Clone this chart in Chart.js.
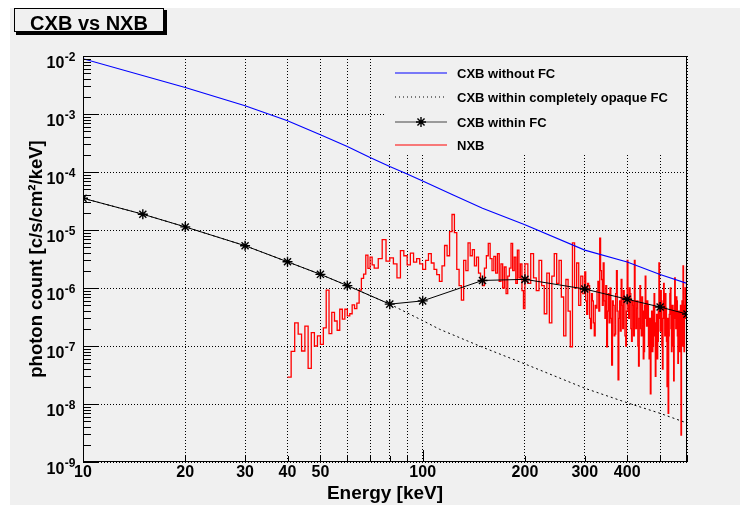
<!DOCTYPE html>
<html>
<head>
<meta charset="utf-8">
<title>CXB vs NXB</title>
<script src="https://cdn.jsdelivr.net/npm/chart.js@4.4.0/dist/chart.umd.min.js"></script>
<style>
html,body{margin:0;padding:0;background:#ffffff;}
#box{position:relative;width:750px;height:510px;}
canvas{display:block;}
</style>
</head>
<body>
<div id="box"><canvas id="chart" width="750" height="510"></canvas></div>
<script>
// ---------------- data ----------------
const chartTitle = 'CXB vs NXB';
const seriesNames = ['CXB without FC', 'CXB within completely opaque FC', 'CXB within FC', 'NXB'];

const cxbEnergy = [10, 20, 30, 40, 50, 60, 70, 80, 90, 100, 123, 150, 200, 300, 400, 500, 600];
const cxbWithoutFC = [8.98e-3, 2.87e-3, 1.39e-3, 7.64e-4, 4.38e-4, 2.75e-4, 1.77e-4, 1.24e-4, 9.27e-5, 7.0e-5, 4.02e-5, 2.37e-5, 1.23e-5, 4.5e-6, 2.8e-6, 1.71e-6, 1.2e-6];

const fcEnergy = [10, 15, 20, 30, 40, 50, 60, 80, 100, 150, 200, 300, 400, 500, 600];
const cxbWithinFC = [3.53e-5, 1.87e-5, 1.13e-5, 5.36e-6, 2.83e-6, 1.72e-6, 1.10e-6, 5.27e-7, 6.0e-7, 1.35e-6, 1.41e-6, 9.6e-7, 6.4e-7, 4.7e-7, 3.55e-7];

const opaqueEnergy = [10, 15, 20, 30, 40, 50, 60, 80, 100, 112, 147, 200, 300, 400, 500, 600];
const cxbOpaqueFC = [3.53e-5, 1.87e-5, 1.13e-5, 5.36e-6, 2.83e-6, 1.72e-6, 1.10e-6, 5.27e-7, 2.74e-7, 1.95e-7, 1.0e-7, 4.9e-8, 1.87e-8, 1.05e-8, 6.9e-9, 4.7e-9];

// NXB histogram, runs of equal-width bins (low edge, width, contents)
const nxbAStart = 40, nxbAWidth = 1;      // 40-72 keV
const nxbA = [2.9e-8, 8.1e-8, 2.5e-7, 1.6e-7, 8.2e-8, 2.2e-7, 4.1e-8, 1.7e-7, 1.0e-7, 1.5e-7,
  1.07e-7, 2.06e-7, 9.2e-7, 1.64e-7, 3.8e-7, 2.7e-7, 1.87e-7, 4.3e-7, 2.9e-7, 4.3e-7,
  3.3e-7, 3.6e-7, 5.1e-7, 4.4e-7, 5.5e-7, 9.2e-7, 1.47e-6, 1.74e-6, 3.7e-6, 2.18e-6,
  3.4e-6, 2.5e-6];
const nxbBStart = 72, nxbBWidth = 2;      // 72-200 keV
const nxbB = [2.2e-6, 3.2e-6, 6.8e-6, 2.9e-6, 3.3e-6, 2.6e-6, 1.5e-6, 4.4e-6, 3.6e-6, 2.5e-6,
  4.0e-6, 2.8e-6, 3.2e-6, 2.6e-6, 2.1e-6, 3.0e-6, 3.9e-6, 2.7e-6, 2.1e-6, 1.7e-6,
  1.3e-6, 2.4e-6, 5.4e-6, 3.6e-6, 9.4e-6, 1.85e-5, 9.0e-6, 2.1e-6, 1.1e-6, 6.2e-7,
  3.0e-6, 2.0e-6, 6.0e-6, 3.6e-6, 4.6e-6, 2.4e-6, 3.4e-6, 1.8e-6, 1.4e-6, 1.1e-6,
  2.2e-6, 3.6e-6, 5.9e-6, 3.2e-6, 2.0e-6, 3.5e-6, 1.8e-6, 3.9e-6, 1.3e-6, 2.6e-6,
  1.0e-6, 2.3e-6, 8.0e-7, 1.6e-6, 2.2e-6, 5.9e-6, 2.0e-6, 3.4e-6, 1.2e-6, 4.5e-6,
  1.5e-6, 2.6e-6, 9.0e-7, 4.4e-7];
const nxbCStart = 200, nxbCWidth = 4;     // 200-300 keV
const nxbC = [2.6e-6, 1.2e-6, 3.9e-6, 1.5e-6, 9.0e-7, 3.0e-6, 1.1e-6, 3.6e-7, 1.8e-6, 2.5e-7,
  1.6e-6, 3.9e-6, 1.2e-6, 3.0e-6, 7.0e-7, 1.5e-7, 1.4e-6, 4.0e-7, 9.7e-8, 6.0e-6,
  1.0e-6, 2.7e-6, 5.0e-7, 1.6e-6, 8.0e-7];
const nxbDStart = 300, nxbDWidth = 2;     // 300-600 keV
const nxbD = [1.9e-6, 6.0e-7, 3.5e-7, 1.2e-6, 1.1e-6, 3.0e-7, 2.0e-7, 8.0e-7, 6.0e-7, 2.5e-7,
  1.5e-7, 5.0e-7, 4.5e-7, 9.0e-7, 1.3e-6, 4.0e-7, 7.2e-6, 2.0e-6, 1.4e-6, 5.0e-7,
  2.7e-6, 6.0e-7, 3.0e-7, 1.1e-6, 9.7e-8, 4.0e-7, 8.0e-7, 2.5e-7, 1.0e-6, 3.0e-7,
  4.7e-8, 6.0e-7, 5.0e-7, 1.5e-7, 1.6e-7, 8.0e-7, 2.0e-6, 4.0e-7, 2.6e-8, 3.0e-7,
  6.0e-7, 1.8e-7, 1.4e-6, 5.0e-7, 2.0e-7, 9.0e-7, 7.0e-7, 1.5e-7, 1.0e-7, 4.0e-7,
  3.0e-6, 5.0e-7, 3.0e-7, 1.0e-6, 8.0e-7, 2.0e-7, 1.2e-7, 6.0e-7, 5.0e-7, 1.5e-7,
  3.0e-6, 6.0e-7, 2.0e-7, 4.5e-7, 6.0e-7, 1.0e-7, 4.5e-8, 3.0e-7, 1.1e-6, 2.0e-7,
  1.5e-7, 7.0e-7, 4.0e-7, 6.0e-8, 8.0e-8, 5.0e-7, 1.6e-6, 3.0e-7, 2.2e-7, 6.0e-7,
  5.0e-7, 1.0e-7, 6.0e-8, 3.0e-7, 1.5e-8, 2.0e-7, 4.0e-7, 8.0e-8, 1.0e-7, 5.0e-7,
  8.0e-7, 1.5e-7, 3.0e-8, 2.5e-7, 3.5e-7, 6.0e-8, 1.2e-7, 4.0e-7, 2.7e-6, 3.0e-7,
  1.8e-7, 9.0e-7, 6.0e-7, 1.0e-7, 4.0e-8, 3.0e-7, 1.2e-6, 5.0e-7, 1.5e-7, 8.0e-7,
  4.5e-7, 1.2e-7, 2.0e-8, 3.0e-7, 6.9e-9, 1.5e-7, 3.5e-7, 8.0e-7, 1.0e-6, 2.0e-7,
  8.0e-8, 5.0e-7, 5.0e-7, 1.0e-7, 2.5e-8, 4.0e-7, 1.5e-6, 3.0e-7, 2.0e-7, 7.0e-7,
  6.0e-7, 1.5e-7, 5.0e-8, 4.0e-7, 4.0e-7, 8.0e-8, 1.2e-7, 5.0e-7, 2.9e-9, 2.0e-7,
  6.0e-7, 1.0e-7, 2.4e-6, 5.0e-7, 8.0e-8, 3.0e-7, 1.0e-6, 3.0e-7, 6.0e-7, 2.3e-6];
const nxbEndEnergy = 600, nxbEmptyValue = 1e-12; // histogram drops to the floor at its upper edge

const xTickValues = [10, 20, 30, 40, 50, 60, 70, 80, 90, 100, 200, 300, 400, 500, 600];
const xTickLabels = ['10', '20', '30', '40', '50', '', '', '', '', '100', '200', '300', '400', '', ''];
const yTickValues = [1e-9, 1e-8, 1e-7, 1e-6, 1e-5, 1e-4, 1e-3, 1e-2];
const yTickBase = '10';
const yTickExponents = ['-9', '-8', '-7', '-6', '-5', '-4', '-3', '-2'];
const xTitle = 'Energy [keV]';
const yTitle = 'photon count [c/s/cm\u00B2/keV]';

// ---------------- build chart ----------------
const FONT = '"Liberation Sans", Arial, Helvetica, sans-serif';
const BG = '#f0f0f0';
Chart.defaults.font.family = FONT;
Chart.defaults.color = '#000';

const pts = (xs, ys) => xs.map((x, i) => ({x: x, y: ys[i]}));
const bins = (start, width, vals) => vals.map((v, i) => ({x: start + i * width, y: v}));
const nxbPoints = [].concat(
  bins(nxbAStart, nxbAWidth, nxbA),
  bins(nxbBStart, nxbBWidth, nxbB),
  bins(nxbCStart, nxbCWidth, nxbC),
  bins(nxbDStart, nxbDWidth, nxbD),
  [{x: nxbEndEnergy, y: nxbEmptyValue}]
);

const legendColors = ['#0000ff', '#000000', '#444444', '#ff0000'];

function drawStar(ctx, x, y, r) {
  const d = r * Math.SQRT1_2;
  ctx.beginPath();
  ctx.moveTo(x - r, y); ctx.lineTo(x + r, y);
  ctx.moveTo(x, y - r); ctx.lineTo(x, y + r);
  ctx.moveTo(x - d, y - d); ctx.lineTo(x + d, y + d);
  ctx.moveTo(x - d, y + d); ctx.lineTo(x + d, y - d);
  ctx.stroke();
}

const LEG = {left: 384, bottom: 154, x0: 395, x1: 447, tx: 457, rows: [73, 97, 122, 145]};

const decor = {
  id: 'decor',
  beforeDraw(chart) {
    const c = chart.ctx;
    c.save();
    c.fillStyle = '#ffffff'; c.fillRect(0, 0, chart.width, chart.height);
    c.fillStyle = BG; c.fillRect(10, 8, 730, 497);
    c.restore();
  },
  beforeDatasetsDraw(chart) {
    const c = chart.ctx, a = chart.chartArea;
    c.save();
    c.fillStyle = BG;
    c.fillRect(LEG.left, a.top + 1, a.right - LEG.left - 1, LEG.bottom - a.top - 1);
    c.restore();
  },
  afterDatasetsDraw(chart) {
    const c = chart.ctx, a = chart.chartArea, xs = chart.scales.x, ys = chart.scales.y;
    c.save();
    c.strokeStyle = '#000'; c.lineWidth = 1; c.setLineDash([]);
    c.strokeRect(Math.round(a.left) + 0.5, Math.round(a.top) + 0.5, Math.round(a.right - a.left) - 1, Math.round(a.bottom - a.top) - 1);
    c.beginPath();
    for (let e = -9; e <= -2; e++) {
      for (let m = 1; m <= 9; m++) {
        const v = m * Math.pow(10, e);
        if (v > 1.0001e-2) break;
        const py = Math.round(ys.getPixelForValue(v)) + 0.5;
        const len = m === 1 ? 15 : 8;
        c.moveTo(a.left, py); c.lineTo(a.left + len, py);
      }
    }
    xTickValues.forEach(v => {
      const px = Math.round(xs.getPixelForValue(v)) + 0.5;
      const len = (v === 10 || v === 100) ? 12 : 6;
      c.moveTo(px, a.bottom); c.lineTo(px, a.bottom - len);
    });
    c.stroke();
    c.restore();
  },
  afterDraw(chart) {
    const c = chart.ctx, ys = chart.scales.y;
    c.save();
    // y tick labels: 10 with raised exponent
    c.fillStyle = '#000';
    c.textAlign = 'right'; c.textBaseline = 'alphabetic';
    yTickValues.forEach((v, i) => {
      const py = ys.getPixelForValue(v);
      c.font = 'bold 12px ' + FONT;
      const ew = c.measureText(yTickExponents[i]).width;
      c.fillText(yTickExponents[i], 75.5, py + 5);
      c.font = 'bold 16px ' + FONT;
      c.fillText(yTickBase, 75.5 - ew - 0.5, py + 11.5);
    });
    // title box with shadow
    c.fillStyle = '#000'; c.fillRect(16, 10, 151, 25);
    c.fillStyle = BG; c.fillRect(14, 8, 150, 24);
    c.strokeStyle = '#000'; c.lineWidth = 1; c.strokeRect(14.5, 8.5, 149, 23);
    c.fillStyle = '#000';
    c.font = 'bold 20px ' + FONT;
    c.textAlign = 'center'; c.textBaseline = 'alphabetic';
    c.fillText(chartTitle, 89, 30);
    // legend
    c.font = 'bold 13px ' + FONT;
    c.textAlign = 'left';
    LEG.rows.forEach((ry, i) => {
      c.save();
      c.lineWidth = 1;
      c.strokeStyle = legendColors[i];
      c.setLineDash(i === 1 ? [1, 3] : []);
      c.beginPath(); c.moveTo(LEG.x0, ry); c.lineTo(LEG.x1, ry); c.stroke();
      c.setLineDash([]);
      if (i === 2) { c.strokeStyle = '#000'; c.lineWidth = 1.4; drawStar(c, (LEG.x0 + LEG.x1) / 2, ry, 5); }
      c.restore();
      c.fillStyle = '#000';
      c.fillText(seriesNames[i], LEG.tx, ry + 5);
    });
    c.restore();
  }
};

new Chart(document.getElementById('chart'), {
  type: 'line',
  data: {
    datasets: [
      {label: seriesNames[2], data: pts(fcEnergy, cxbWithinFC), borderColor: '#000', borderWidth: 1,
        pointStyle: 'star', pointRadius: 5, pointBorderColor: '#000', pointBorderWidth: 1.4,
        pointBackgroundColor: 'rgba(0,0,0,0)', tension: 0, fill: false},
      {label: seriesNames[1], data: pts(opaqueEnergy, cxbOpaqueFC), borderColor: '#000', borderWidth: 1,
        borderDash: [2, 3], pointRadius: 0, tension: 0, fill: false},
      {label: seriesNames[0], data: pts(cxbEnergy, cxbWithoutFC), borderColor: '#0000ff', borderWidth: 1.1,
        pointRadius: 0, tension: 0, fill: false},
      {label: seriesNames[3], data: nxbPoints, borderColor: '#ff0000', borderWidth: 1.3,
        pointRadius: 0, stepped: 'before', tension: 0, fill: false}
    ]
  },
  options: {
    responsive: false,
    animation: false,
    devicePixelRatio: 1,
    events: [],
    layout: {padding: {left: 0, top: 56, right: 63, bottom: 0}},
    plugins: {legend: {display: false}, tooltip: {enabled: false}, title: {display: false}},
    scales: {
      x: {
        type: 'logarithmic', min: 10, max: 600,
        afterBuildTicks: (s) => { s.ticks = xTickValues.map(v => ({value: v})); },
        afterFit: (s) => { s.height = 48; },
        ticks: {autoSkip: false, maxRotation: 0, minRotation: 0, padding: 1,
          font: {size: 16, weight: 'bold'}, color: '#000',
          callback: (v) => { const i = xTickValues.indexOf(v); return i >= 0 ? xTickLabels[i] : ''; }},
        grid: {display: true, drawTicks: false, color: '#000', lineWidth: 1},
        border: {display: false, dash: [1, 2]},
        title: {display: true, text: xTitle, font: {size: 19, weight: 'bold'}, color: '#000', padding: {top: 0, bottom: 5}}
      },
      y: {
        type: 'logarithmic', min: 1e-9, max: 1e-2,
        afterBuildTicks: (s) => { s.ticks = yTickValues.map(v => ({value: v})); },
        afterFit: (s) => { s.width = 83; },
        ticks: {display: false},
        grid: {display: true, drawTicks: false, color: '#000', lineWidth: 1},
        border: {display: false, dash: [1, 2]},
        title: {display: true, text: yTitle, font: {size: 18.5, weight: 'bold'}, color: '#000', padding: {top: 26, bottom: 0}}
      }
    }
  },
  plugins: [decor]
});
</script>
</body>
</html>
